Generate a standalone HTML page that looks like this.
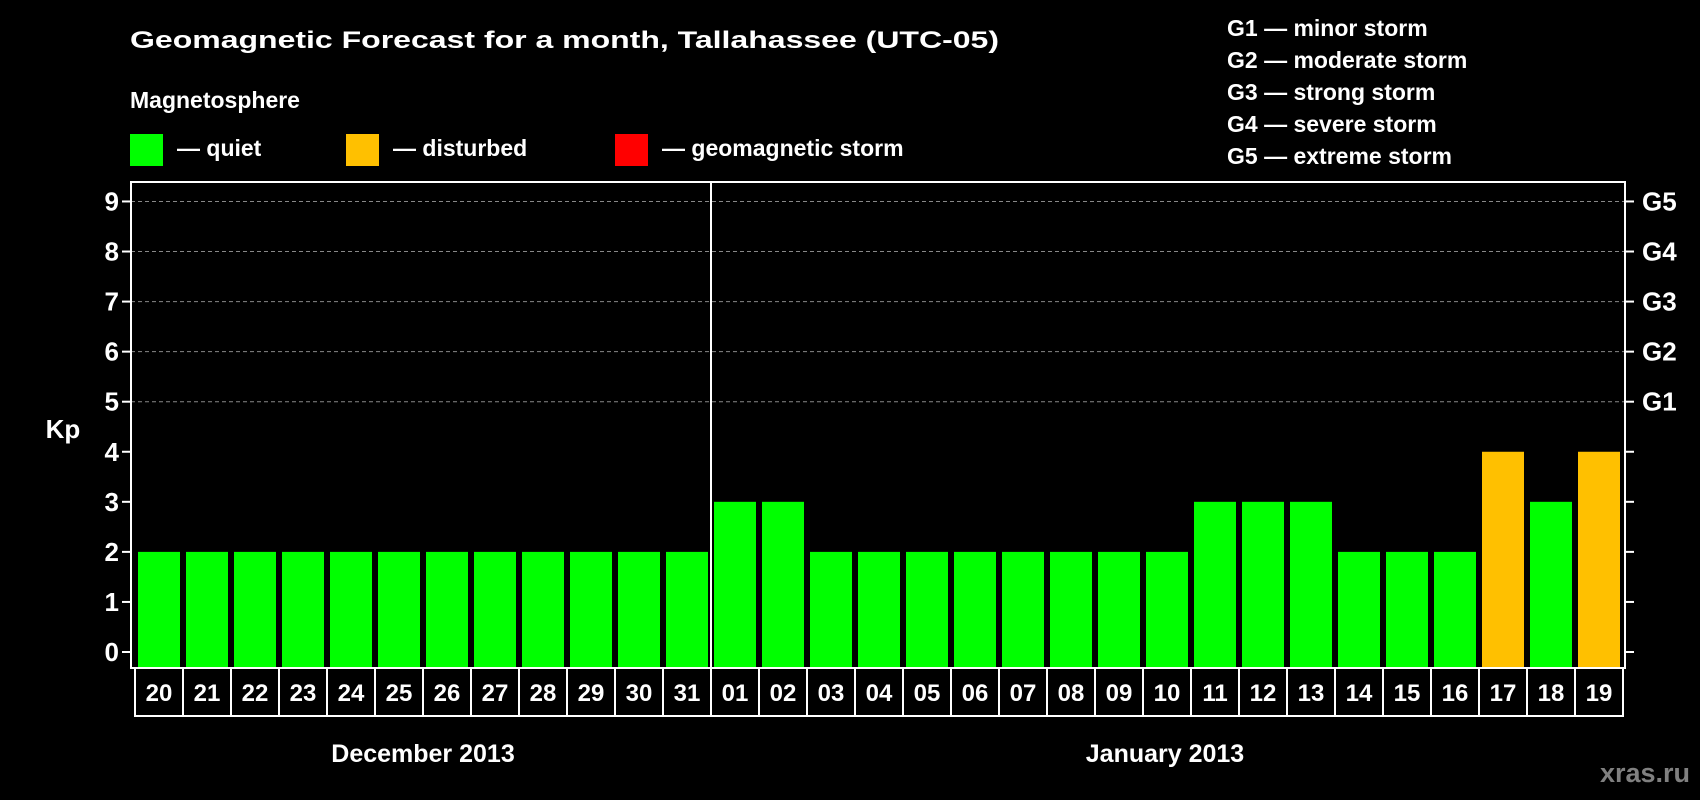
<!DOCTYPE html>
<html><head><meta charset="utf-8"><style>
html,body{margin:0;padding:0;background:#000;}
svg{display:block;font-family:"Liberation Sans",Arial,sans-serif;font-weight:bold;}
</style></head><body>
<svg id="chart" width="1700" height="800" viewBox="0 0 1700 800">
<rect x="0" y="0" width="1700" height="800" fill="#000"/>
<text x="130" y="48" fill="#fff" font-size="24" textLength="869" lengthAdjust="spacingAndGlyphs">Geomagnetic Forecast for a month, Tallahassee (UTC-05)</text>
<text x="130" y="108" fill="#fff" font-size="23">Magnetosphere</text>
<g><rect x="130" y="134" width="33" height="32" fill="#00ff00"/><text x="177" y="156" fill="#fff" font-size="23">— quiet</text></g>
<g><rect x="346" y="134" width="33" height="32" fill="#ffc000"/><text x="393" y="156" fill="#fff" font-size="23">— disturbed</text></g>
<g><rect x="615" y="134" width="33" height="32" fill="#ff0000"/><text x="662" y="156" fill="#fff" font-size="23">— geomagnetic storm</text></g>
<g fill="#fff" font-size="23">
<text x="1227" y="36">G1 — minor storm</text>
<text x="1227" y="68">G2 — moderate storm</text>
<text x="1227" y="100">G3 — strong storm</text>
<text x="1227" y="132">G4 — severe storm</text>
<text x="1227" y="164">G5 — extreme storm</text>
</g>
<g id="plot"></g>
<text x="423" y="762" fill="#fff" font-size="25" text-anchor="middle">December 2013</text>
<text x="1165" y="762" fill="#fff" font-size="25" text-anchor="middle">January 2013</text>
<text x="1690" y="782" fill="#808080" font-size="27" text-anchor="end">xras.ru</text>
</svg>
<script>
const days = ["20","21","22","23","24","25","26","27","28","29","30","31","01","02","03","04","05","06","07","08","09","10","11","12","13","14","15","16","17","18","19"];
const kpValues = [2,2,2,2,2,2,2,2,2,2,2,2,3,3,2,2,2,2,2,2,2,2,3,3,3,2,2,2,4,3,4];
const yTicks = [0,1,2,3,4,5,6,7,8,9];
const gLabels = ["G1","G2","G3","G4","G5"];
const gLevels = [5,6,7,8,9];

const NS="http://www.w3.org/2000/svg";
const plot=document.getElementById('plot');
const L=131,R=1625,T=182,B=668;
const y0=652, unit=50.06;
const yScale=v=>y0-v*unit;
const step=(R-L-6)/days.length;
const xScale=i=>L+7+i*step;
function mk(tag,attrs){const e=document.createElementNS(NS,tag);for(const k in attrs)e.setAttribute(k,attrs[k]);plot.appendChild(e);return e;}
// grid
gLevels.forEach(v=>{
 const g=mk('line',{x1:L,x2:R,y1:yScale(v),y2:yScale(v),stroke:'#888','stroke-dasharray':'4,3','stroke-width':1});
 
 
});
// bars
kpValues.forEach((v,i)=>{
 const c=v>=5?'#ff0000':(v>=4?'#ffc000':'#00ff00');
 const b=mk('rect',{x:xScale(i),y:yScale(v),width:step-6,height:B-yScale(v),fill:c});
 
 
});
// frame
const fr=mk('rect',{x:L,y:T,width:R-L,height:B-T,fill:'none',stroke:'#fff','stroke-width':2});


// month divider
const sep=days.indexOf("01");
const dv=mk('line',{x1:xScale(sep)-3,x2:xScale(sep)-3,y1:T,y2:B,stroke:'#fff','stroke-width':2});


// y ticks
yTicks.forEach(v=>{
 const t=mk('line',{x1:L-9,x2:L,y1:yScale(v),y2:yScale(v),stroke:'#fff','stroke-width':2});
 
 
 const t2=mk('line',{x1:R,x2:R+9,y1:yScale(v),y2:yScale(v),stroke:'#fff','stroke-width':2});
 
 
 const lb=mk('text',{x:L-12,y:yScale(v)+9,fill:'#fff','font-size':26,'text-anchor':'end'});
 lb.textContent=v;
 
 
});
gLabels.forEach((g,i)=>{
 const lb=mk('text',{x:R+17,y:yScale(gLevels[i])+9,fill:'#fff','font-size':26});
 lb.textContent=g;
 
 
});
const kp=mk('text',{x:63,y:438,fill:'#fff','font-size':26,'text-anchor':'middle'});
kp.textContent='Kp';


// date boxes
days.forEach((d,i)=>{
 const cx=xScale(i)+(step-6)/2;
 const bx=mk('rect',{x:cx-step/2,y:B,width:step,height:48,fill:'none',stroke:'#fff','stroke-width':2});
 
 
 const tx=mk('text',{x:cx,y:B+33,fill:'#fff','font-size':24,'text-anchor':'middle'});
 tx.textContent=d;
 
 
});
</script>
</body></html>
